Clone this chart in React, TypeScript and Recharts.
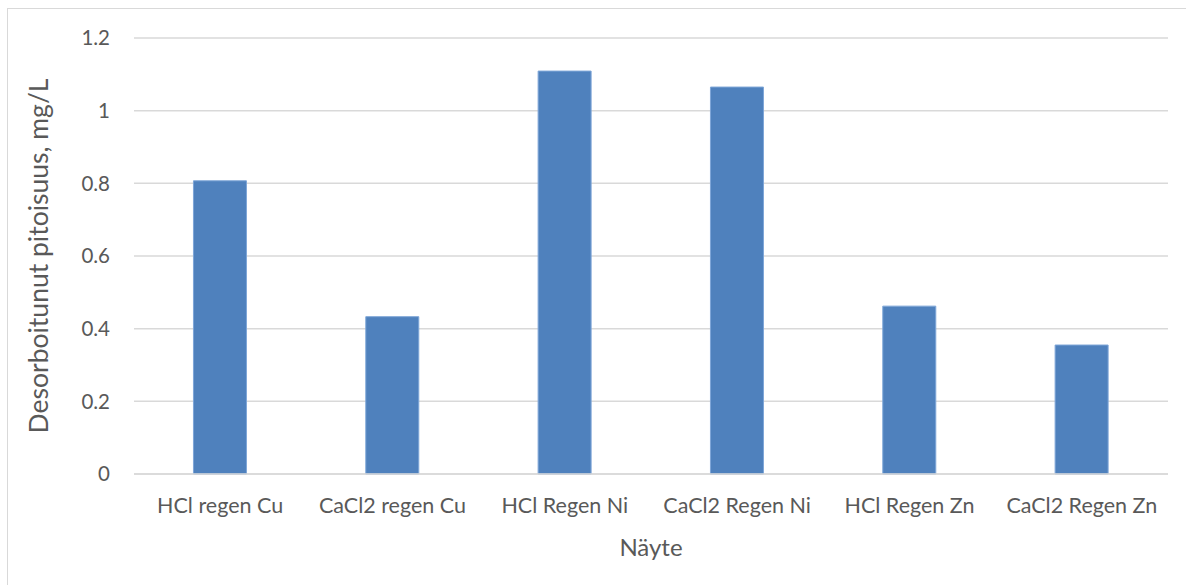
import { BarChart, Bar, XAxis, YAxis, CartesianGrid, Label } from 'recharts';

const samples = ['HCl regen Cu', 'CaCl2 regen Cu', 'HCl Regen Ni', 'CaCl2 Regen Ni', 'HCl Regen Zn', 'CaCl2 Regen Zn'];
const desorbed = [0.807, 0.433, 1.109, 1.065, 0.462, 0.355];
const yTicks = [0, 0.2, 0.4, 0.6, 0.8, 1, 1.2];

const data = samples.map((name, i) => ({ name, value: desorbed[i] }));

const FONT = 'Lato, "Open Sans", sans-serif';
const TEXT = '#595959';
const GRID = '#D9D9D9';

const YTitle = ({ viewBox }: any) => {
  const cx = viewBox.x - 36;
  const cy = viewBox.y + viewBox.height / 2;
  return (
    <text
      x={cx}
      y={cy}
      transform={`rotate(-90, ${cx}, ${cy})`}
      textAnchor="middle"
      dominantBaseline="central"
      fill={TEXT}
      fontSize={26.5}
      fontFamily={FONT}
    >
      Desorboitunut pitoisuus, mg/L
    </text>
  );
};

const XTitle = ({ viewBox }: any) => (
  <text
    x={viewBox.x + viewBox.width / 2}
    y={viewBox.y + 72}
    textAnchor="middle"
    dominantBaseline="central"
    fill={TEXT}
    fontSize={24}
    fontFamily={FONT}
  >
    Näyte
  </text>
);

const App = () => {
  return (
    <div style={{ position: 'absolute', left: 0, top: 0, width: 1186, height: 585, background: '#fff' }}>
      <div
        style={{
          position: 'absolute',
          left: 7,
          top: 8,
          width: 1186,
          height: 585,
          border: '1px solid #D9D9D9',
          boxSizing: 'border-box',
        }}
      />
      <BarChart
        width={1186}
        height={585}
        data={data}
        margin={{ top: 38, right: 18, bottom: 71, left: 74 }}
        barCategoryGap="34.5%"
        style={{ position: 'absolute', left: 0, top: 0, fontFamily: FONT }}
      >
        <CartesianGrid vertical={false} stroke={GRID} strokeWidth={1.5} />
        <XAxis
          dataKey="name"
          height={40}
          stroke={GRID}
          strokeWidth={1.5}
          tickLine={false}
          tickSize={0}
          tickMargin={24}
          tick={{ fill: TEXT, fontSize: 21.5 }}
          interval={0}
        >
          <Label content={XTitle} />
        </XAxis>
        <YAxis
          width={60}
          domain={[0, 1.2]}
          ticks={yTicks}
          axisLine={false}
          tickLine={false}
          tickSize={0}
          tickMargin={24}
          tick={{ fill: TEXT, fontSize: 20.5 }}
        >
          <Label content={YTitle} />
        </YAxis>
        <Bar dataKey="value" fill="#4F81BD" stroke="#7EA6D8" strokeWidth={1} isAnimationActive={false} />
      </BarChart>
    </div>
  );
};

export default App;
